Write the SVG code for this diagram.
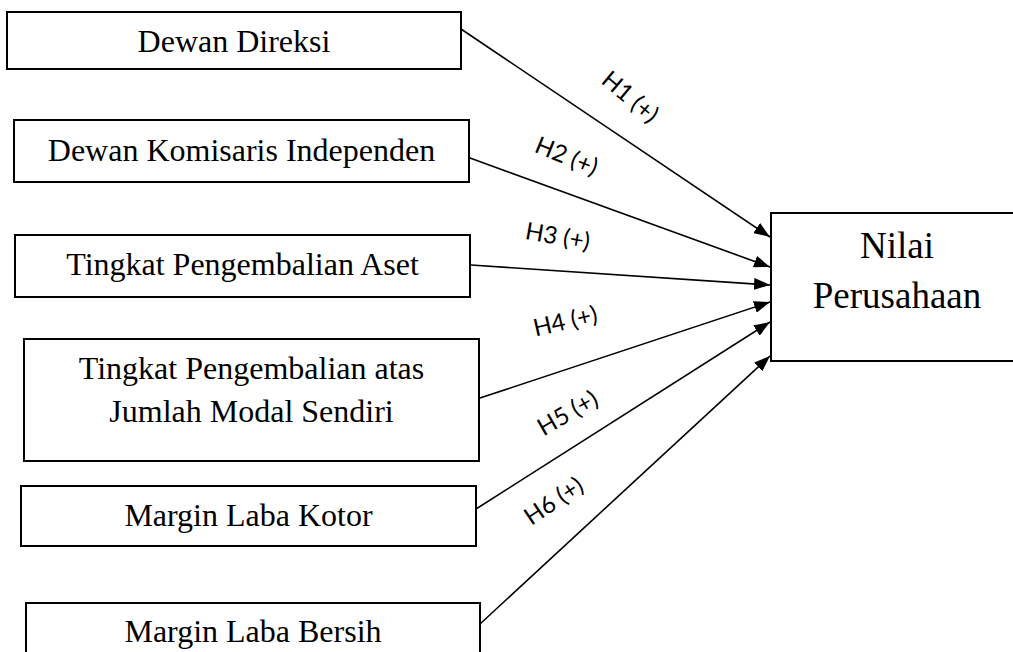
<svg xmlns="http://www.w3.org/2000/svg" width="1013" height="652" viewBox="0 0 1013 652">
<defs>
<style>
.box{fill:#fff;stroke:#000;stroke-width:2}
.t{font-family:"Liberation Serif","Times New Roman",serif;font-size:32px;fill:#000;text-anchor:middle}
.tb{font-family:"Liberation Serif","Times New Roman",serif;font-size:37px;fill:#000;text-anchor:middle}
.c{stroke:#000;stroke-width:1.6;fill:none;marker-end:url(#arr)}
.lbl{font-family:Lato,"Open Sans",sans-serif;font-size:24px;fill:#000;text-anchor:middle;dominant-baseline:central}
</style>
<marker id="arr" markerUnits="userSpaceOnUse" markerWidth="16" markerHeight="12" refX="16" refY="6" orient="auto">
<path d="M0,0 L16,6 L0,12 z" fill="#000"/>
</marker>
</defs>
<rect width="1013" height="652" fill="#fff"/>
<g id="connectors">
<line class="c" x1="461" y1="29" x2="770" y2="237"/>
<line class="c" x1="470" y1="158" x2="770" y2="267"/>
<line class="c" x1="471" y1="265" x2="770" y2="285"/>
<line class="c" x1="480" y1="398" x2="770" y2="302"/>
<line class="c" x1="476" y1="509" x2="770" y2="322"/>
<line class="c" x1="480" y1="624" x2="770" y2="356"/>
<text class="lbl" transform="translate(631,96) rotate(40)">H1 (+)</text>
<text class="lbl" transform="translate(567,155) rotate(22)">H2 (+)</text>
<text class="lbl" transform="translate(558,235) rotate(10)">H3 (+)</text>
<text class="lbl" transform="translate(565,320) rotate(-13)">H4 (+)</text>
<text class="lbl" transform="translate(567,412) rotate(-30)">H5 (+)</text>
<text class="lbl" transform="translate(553,500) rotate(-34)">H6 (+)</text>
</g>
<g id="n1"><rect class="box" x="7" y="12" width="454" height="57"/><text class="t" x="234" y="52">Dewan Direksi</text></g>
<g id="n2"><rect class="box" x="14" y="120" width="455" height="62"/><text class="t" x="241.5" y="161">Dewan Komisaris Independen</text></g>
<g id="n3"><rect class="box" x="15" y="235" width="455" height="62"/><text class="t" x="242.5" y="275">Tingkat Pengembalian Aset</text></g>
<g id="n4"><rect class="box" x="24" y="339" width="455" height="122"/><text class="t" x="251.5" y="379">Tingkat Pengembalian atas</text><text class="t" x="251.5" y="422">Jumlah Modal Sendiri</text></g>
<g id="n5"><rect class="box" x="21" y="486" width="455" height="60"/><text class="t" x="248.5" y="526">Margin Laba Kotor</text></g>
<g id="n6"><rect class="box" x="26" y="603" width="454" height="70"/><text class="t" x="253" y="642">Margin Laba Bersih</text></g>
<g id="target"><rect class="box" x="771" y="213" width="260" height="148"/><text class="tb" x="897" y="258">Nilai</text><text class="tb" x="897" y="308">Perusahaan</text></g>
</svg>
